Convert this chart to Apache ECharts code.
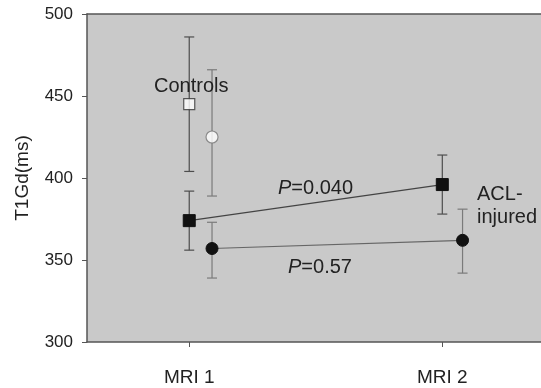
<!DOCTYPE html>
<html>
<head>
<meta charset="utf-8">
<script src="https://cdn.jsdelivr.net/npm/echarts@6/dist/echarts.min.js"></script>
<style>
  html, body { margin: 0; padding: 0; background: #fff; }
  #chart { width: 541px; height: 388px; }
</style>
</head>
<body>
<div id="chart"></div>
<script>
// Time points on the x axis
const timepoints = ['MRI 1', 'MRI 2'];
const timeX = [1, 2];
// Circle-symbol groups are drawn slightly to the right of each time point
const circleX = [1.09, 2.08];

// Controls (MRI 1 only)
const ctrlSquareMean = [445];
const ctrlSquareLow = [404];
const ctrlSquareHigh = [486];
const ctrlCircleMean = [425];
const ctrlCircleLow = [389];
const ctrlCircleHigh = [466];

// ACL-injured (MRI 1, MRI 2)
const aclSquareMean = [374, 396];
const aclSquareLow = [356, 378];
const aclSquareHigh = [392, 414];
const aclCircleMean = [357, 362];
const aclCircleLow = [339, 342];
const aclCircleHigh = [373, 381];

// y axis ticks
const yTicks = [300, 350, 400, 450, 500];

const pts = (xs, ys) => ys.map((v, i) => [xs[i], v]);
const bars = (xs, lo, hi) => lo.map((v, i) => [xs[i], v, hi[i]]);

function errorBar(color) {
  return function (params, api) {
    const x = api.value(0);
    const lo = api.coord([x, api.value(1)]);
    const hi = api.coord([x, api.value(2)]);
    const w = 5;
    const style = { stroke: color, lineWidth: 1.2 };
    return {
      type: 'group',
      children: [
        { type: 'line', shape: { x1: lo[0], y1: lo[1], x2: hi[0], y2: hi[1] }, style },
        { type: 'line', shape: { x1: lo[0] - w, y1: lo[1], x2: lo[0] + w, y2: lo[1] }, style },
        { type: 'line', shape: { x1: hi[0] - w, y1: hi[1], x2: hi[0] + w, y2: hi[1] }, style }
      ]
    };
  };
}

const textColor = '#222';
const font = 'Liberation Sans, Arial, sans-serif';
const noteFont = '20px ' + font;
const italicRich = { i: { fontStyle: 'italic', fontSize: 20, fontFamily: font, fill: textColor } };

const chart = echarts.init(document.getElementById('chart'));
chart.setOption({
  animation: false,
  backgroundColor: '#fff',
  grid: {
    left: 87, right: 0, top: 14, bottom: 46,
    show: true, backgroundColor: '#c9c9c9', borderWidth: 0
  },
  xAxis: [{
    type: 'value',
    min: 0.596, max: 2.39,
    splitLine: { show: false },
    axisLine: { lineStyle: { color: '#555', width: 1.5 } },
    axisTick: { customValues: timeX, length: 5, lineStyle: { color: '#555' } },
    axisLabel: {
      customValues: timeX,
      formatter: v => timepoints[timeX.indexOf(v)] || '',
      color: textColor, fontSize: 19, fontFamily: font, margin: 26
    }
  }, {
    type: 'value',
    position: 'top',
    min: 0.596, max: 2.39,
    splitLine: { show: false },
    axisLine: { show: true, lineStyle: { color: '#555', width: 1.5 } },
    axisTick: { show: false },
    axisLabel: { show: false }
  }],
  yAxis: {
    type: 'value',
    min: yTicks[0], max: yTicks[yTicks.length - 1], interval: 50,
    name: 'T1Gd(ms)', nameLocation: 'middle', nameGap: 55, nameRotate: 90,
    nameTextStyle: { color: textColor, fontSize: 19, fontFamily: font },
    splitLine: { show: false },
    axisLine: { show: true, lineStyle: { color: '#555', width: 1.5 } },
    axisTick: { show: true, length: 5, lineStyle: { color: '#555' } },
    axisLabel: { color: textColor, fontSize: 17, fontFamily: font, margin: 14 }
  },
  series: [
    { type: 'custom', renderItem: errorBar('#4d4d4d'), data: bars(timeX, ctrlSquareLow, ctrlSquareHigh), z: 2 },
    { type: 'custom', renderItem: errorBar('#7a7a7a'), data: bars(circleX, ctrlCircleLow, ctrlCircleHigh), z: 2 },
    { type: 'custom', renderItem: errorBar('#4d4d4d'), data: bars(timeX, aclSquareLow, aclSquareHigh), z: 2 },
    { type: 'custom', renderItem: errorBar('#7a7a7a'), data: bars(circleX, aclCircleLow, aclCircleHigh), z: 2 },
    {
      type: 'line', data: pts(timeX, aclSquareMean), z: 3,
      symbol: 'rect', symbolSize: 12,
      lineStyle: { color: '#444', width: 1.2 },
      itemStyle: { color: '#111', borderColor: '#111' }
    },
    {
      type: 'line', data: pts(circleX, aclCircleMean), z: 3,
      symbol: 'circle', symbolSize: 12,
      lineStyle: { color: '#666', width: 1.2 },
      itemStyle: { color: '#111', borderColor: '#111' }
    },
    {
      type: 'scatter', data: pts(timeX, ctrlSquareMean), z: 4,
      symbol: 'rect', symbolSize: 11,
      itemStyle: { color: '#fff', borderColor: '#333', borderWidth: 1.2 }
    },
    {
      type: 'scatter', data: pts(circleX, ctrlCircleMean), z: 4,
      symbol: 'circle', symbolSize: 12,
      itemStyle: { color: '#fff', borderColor: '#777', borderWidth: 1.2 }
    }
  ],
  graphic: [
    { type: 'text', x: 154, y: 86, z: 10,
      style: { text: 'Controls', fill: textColor, font: noteFont, verticalAlign: 'middle' } },
    { type: 'text', x: 278, y: 188, z: 10,
      style: { text: '{i|P}=0.040', fill: textColor, font: noteFont, verticalAlign: 'middle', rich: italicRich } },
    { type: 'text', x: 288, y: 267, z: 10,
      style: { text: '{i|P}=0.57', fill: textColor, font: noteFont, verticalAlign: 'middle', rich: italicRich } },
    { type: 'text', x: 477, y: 206, z: 10,
      style: { text: 'ACL-\ninjured', fill: textColor, font: noteFont, lineHeight: 23, verticalAlign: 'middle' } }
  ]
});
</script>
</body>
</html>
